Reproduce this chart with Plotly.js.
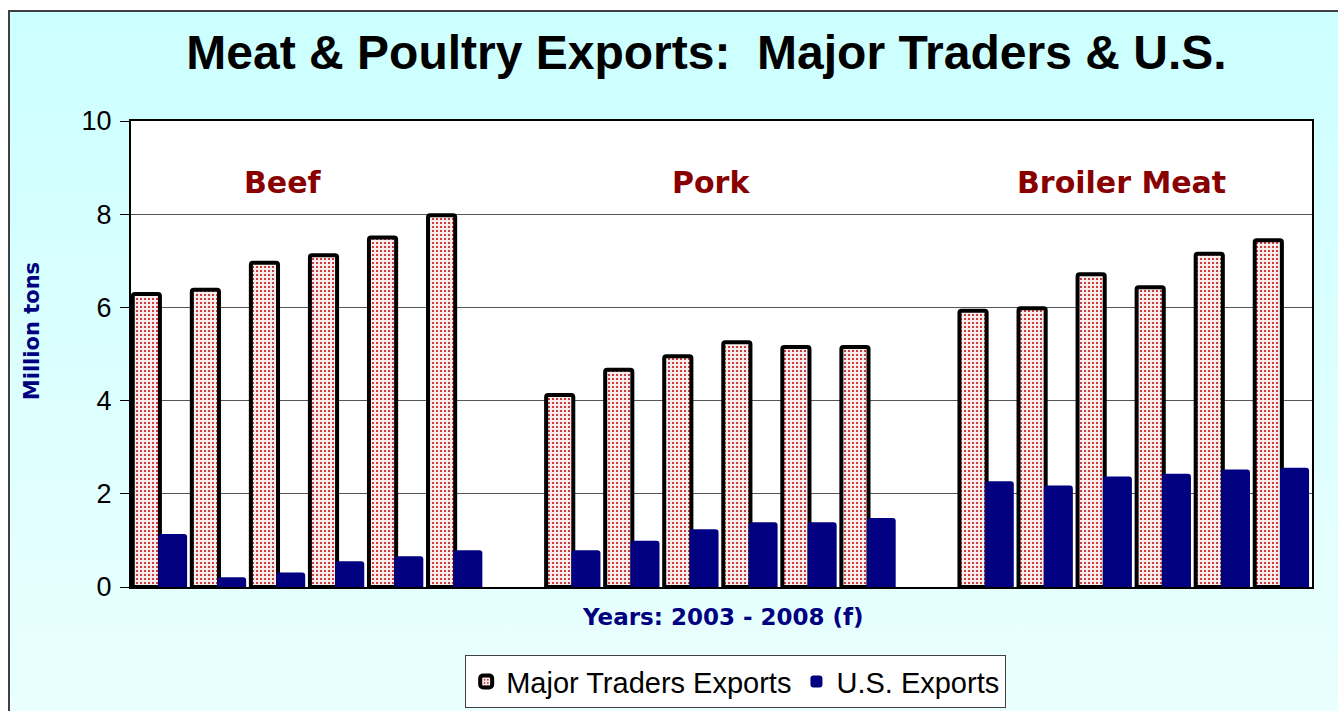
<!DOCTYPE html>
<html>
<head>
<meta charset="utf-8">
<script src="https://cdn.plot.ly/plotly-3.0.1.min.js"></script>
<style>
  html, body { margin: 0; padding: 0; background: #ffffff; overflow: hidden; }
  #frame {
    position: absolute; left: 8px; top: 10px; width: 1400px; height: 800px;
    border: 2px solid #404040; box-sizing: border-box;
    background: linear-gradient(to bottom, #ccffff 0%, #eefffe 100%);
  }
  #chart { position: absolute; left: 0; top: 0; width: 1338px; height: 760px; }
</style>
</head>
<body>
<div id="frame"></div>
<div id="chart"></div>
<script>
// ---- data (million tons), years 2003 - 2008 (f) ----
const meats = ["Beef", "Pork", "Broiler Meat"];
const years = ["2003", "2004", "2005", "2006", "2007", "2008 (f)"];
const beefMajor    = [6.29, 6.38, 6.96, 7.12, 7.50, 7.98];
const beefUS       = [1.14, 0.21, 0.31, 0.55, 0.66, 0.79];
const porkMajor    = [4.12, 4.66, 4.95, 5.25, 5.15, 5.15];
const porkUS       = [0.79, 0.99, 1.24, 1.39, 1.39, 1.48];
const broilerMajor = [5.93, 5.98, 6.71, 6.43, 7.15, 7.44];
const broilerUS    = [2.27, 2.18, 2.37, 2.43, 2.52, 2.56];
const seriesNames  = ["Major Traders Exports", "U.S. Exports"];

const majorByMeat = [beefMajor, porkMajor, broilerMajor];
const usByMeat    = [beefUS, porkUS, broilerUS];

// numeric slot positions: 6 years per meat, one empty slot between meats
const xs = [], yMajor = [], yUS = [], hover = [];
meats.forEach((m, g) => {
  years.forEach((yr, i) => {
    xs.push(g * (years.length + 1) + i);
    yMajor.push(majorByMeat[g][i]);
    yUS.push(usByMeat[g][i]);
    hover.push(m + " " + yr);
  });
});

const traceMajor = {
  type: "bar", name: seriesNames[0], x: xs, y: yMajor, text: hover,
  hovertemplate: "%{text}: %{y}<extra>" + seriesNames[0] + "</extra>", textposition: "none",
  offset: -0.47, width: 0.46,
  marker: {
    color: "#f6e8e8",
    line: { color: "#000000", width: 4 },
    pattern: { shape: ".", fgcolor: "#c01010", bgcolor: "#f8ecec", size: 4, solidity: 0.22 },
    cornerradius: 2
  }
};
const traceUS = {
  type: "bar", name: seriesNames[1], x: xs, y: yUS, text: hover,
  hovertemplate: "%{text}: %{y}<extra>" + seriesNames[1] + "</extra>", textposition: "none",
  offset: -0.04, width: 0.49,
  marker: { color: "#000080", line: { color: "#000080", width: 0 }, cornerradius: 3 }
};

const groupLabelPos = [2.07, 9.32, 16.27];
const annotations = meats.map((m, g) => ({
  text: m, x: groupLabelPos[g], y: 8.67, xref: "x", yref: "y",
  showarrow: false, xanchor: "center", yanchor: "middle",
  font: { family: "DejaVu Sans, Verdana, sans-serif", size: 30, color: "#880000", weight: "bold" }
}));
annotations.push({
  text: "Million tons", textangle: -90, xref: "paper", yref: "paper",
  x: -0.0838, y: 0.549, showarrow: false, xanchor: "center", yanchor: "middle",
  font: { family: "DejaVu Sans, Verdana, sans-serif", size: 21, color: "#000080", weight: "bold" }
});
annotations.push({
  text: "Years: 2003 - 2008 (f)", xref: "paper", yref: "paper",
  x: 0.501, y: -0.064, showarrow: false, xanchor: "center", yanchor: "middle",
  font: { family: "DejaVu Sans, Verdana, sans-serif", size: 23, color: "#000080", weight: "bold" }
});

const layout = {
  width: 1338, height: 760,
  paper_bgcolor: "rgba(0,0,0,0)", plot_bgcolor: "#ffffff",
  margin: { l: 131, r: 26, t: 121, b: 173, pad: 0 },
  barmode: "overlay",
  title: {
    text: "Meat & Poultry Exports:\u00a0 Major Traders & U.S.",
    xref: "container", yref: "container", x: 0.528, y: 1 - 52 / 760,
    xanchor: "center", yanchor: "middle",
    font: { family: "Liberation Sans, Arial, sans-serif", size: 48, color: "#000000", weight: "bold" }
  },
  xaxis: {
    range: [-0.5, 19.5], showticklabels: false, ticks: "", showgrid: false, zeroline: false,
    showline: true, linecolor: "#000000", linewidth: 2, mirror: true, fixedrange: true
  },
  yaxis: {
    range: [0, 10], dtick: 2, tick0: 0, ticks: "outside", ticklen: 9, tickcolor: "#000000", tickwidth: 1,
    showgrid: true, gridcolor: "#555555", gridwidth: 1, zeroline: false,
    showline: true, linecolor: "#000000", linewidth: 2, mirror: true,
    tickfont: { family: "Liberation Sans, Arial, sans-serif", size: 27, color: "#000000" },
    ticklabelstandoff: 3, fixedrange: true
  },
  showlegend: true,
  legend: {
    orientation: "h", xref: "paper", yref: "paper", x: 0.512, y: -0.146,
    xanchor: "center", yanchor: "top",
    bgcolor: "#ffffff", bordercolor: "#404040", borderwidth: 1,
    font: { family: "Liberation Sans, Arial, sans-serif", size: 29, color: "#000000" },
    itemwidth: 30, tracegroupgap: 0
  },
  annotations: annotations
};

Plotly.newPlot("chart", [traceMajor, traceUS], layout, { displayModeBar: false, staticPlot: true });
</script>
</body>
</html>
